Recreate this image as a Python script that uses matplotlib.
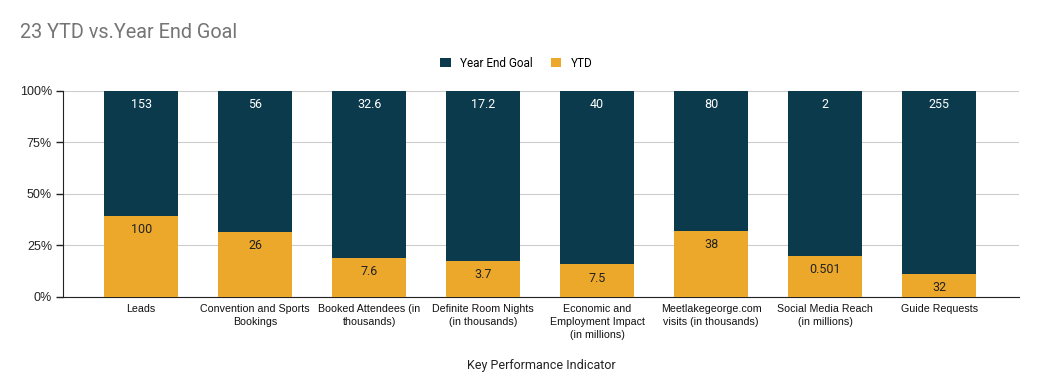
import matplotlib
matplotlib.use("Agg")
import matplotlib.pyplot as plt
import numpy as np

categories = ["Leads", "Convention and Sports\nBookings", "Booked Attendees (in\nthousands)",
              "Definite Room Nights\n(in thousands)", "Economic and\nEmployment Impact\n(in millions)",
              "Meetlakegeorge.com\nvisits (in thousands)", "Social Media Reach\n(in millions)", "Guide Requests"]
ytd = [100, 26, 7.6, 3.7, 7.5, 38, 0.501, 32]
goal = [153, 56, 32.6, 17.2, 40, 80, 2, 255]
ytd_labels = ["100", "26", "7.6", "3.7", "7.5", "38", "0.501", "32"]
goal_labels = ["153", "56", "32.6", "17.2", "40", "80", "2", "255"]

plt.rcParams['font.family'] = ['Roboto', 'DejaVu Sans']

navy = "#0b3a4c"
orange = "#eba82b"
arial = ['Liberation Sans', 'DejaVu Sans']

fig = plt.figure(figsize=(10.37, 3.87), dpi=100)
ax = fig.add_axes([0.0608, 0.2326, 0.9218, 0.5323])

x = np.arange(len(categories))
tot = np.array(ytd) + np.array(goal)
ytd_p = np.array(ytd) / tot * 100
goal_p = np.array(goal) / tot * 100

w = 0.65
ax.bar(x, ytd_p, width=w, color=orange, zorder=3, label="YTD")
ax.bar(x, goal_p, width=w, bottom=ytd_p, color=navy, zorder=3, label="Year End Goal")

for i in range(len(x)):
    ax.text(x[i], 100 - 3.5, goal_labels[i], ha="center", va="top", color="white", fontsize=9, zorder=4)
    ax.text(x[i], ytd_p[i] - 3.5, ytd_labels[i], ha="center", va="top", color="#222222", fontsize=9, zorder=4)

ax.set_xlim(-0.685, 7.7)
ax.set_ylim(0, 100)
ax.set_yticks([0, 25, 50, 75, 100])
ax.set_yticklabels(["0%", "25%", "50%", "75%", "100%"], fontsize=9, color="#222222", family=arial)
ax.yaxis.grid(True, color="#cccccc", linewidth=0.8, zorder=0)
ax.set_xticks(x)
ax.set_xticklabels(categories, fontsize=7.7, color="#111111", linespacing=1.38, family=arial)
ax.tick_params(axis="x", length=0, pad=5)
ax.tick_params(axis="y", length=5, width=1, color="#222222", pad=3)
for s in ["top", "right"]:
    ax.spines[s].set_visible(False)
ax.spines["left"].set_color("#222222")
ax.spines["bottom"].set_color("#222222")
ax.set_xlabel("Key Performance Indicator", fontsize=9, color="#222222", labelpad=14)

handles, labels = ax.get_legend_handles_labels()
fig.legend(handles[::-1], labels[::-1], loc="center", bbox_to_anchor=(0.498, 0.837), ncol=2,
           frameon=False, fontsize=8.5, handlelength=0.9, handleheight=0.9, columnspacing=1.5,
           handletextpad=0.8)

fig.text(0.019, 0.917, "23 YTD vs.Year End Goal", fontsize=14.3, color="#757575", ha="left", va="center")

fig.savefig("out.png", dpi=100)
